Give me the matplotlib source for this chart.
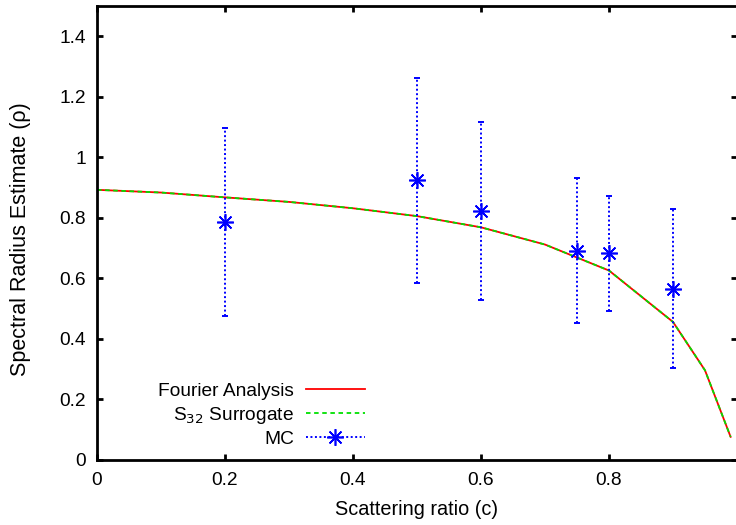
import matplotlib
matplotlib.use("Agg")
import matplotlib.pyplot as plt
from matplotlib.lines import Line2D

plt.rcParams['font.family'] = ['Liberation Sans', 'DejaVu Sans']

# Data
c_vals = [0.0, 0.1, 0.2, 0.3, 0.4, 0.5, 0.6, 0.7, 0.8, 0.9, 0.95, 0.99]
fourier = [0.892, 0.883, 0.867, 0.852, 0.831, 0.805, 0.768, 0.711, 0.625, 0.455, 0.295, 0.075]
surrogate = [0.892, 0.883, 0.867, 0.852, 0.831, 0.805, 0.768, 0.711, 0.625, 0.455, 0.295, 0.075]
mc_c = [0.2, 0.5, 0.6, 0.75, 0.8, 0.9]
mc_rho = [0.786, 0.923, 0.823, 0.691, 0.682, 0.564]
mc_err = [0.311, 0.340, 0.294, 0.240, 0.191, 0.263]
xticks = [0, 0.2, 0.4, 0.6, 0.8]
xticklabels = ['0', '0.2', '0.4', '0.6', '0.8']
yticks = [0, 0.2, 0.4, 0.6, 0.8, 1.0, 1.2, 1.4]
yticklabels = ['0', '0.2', '0.4', '0.6', '0.8', '1', '1.2', '1.4']

W, H = 736, 525
fig = plt.figure(figsize=(W / 100, H / 100), dpi=100)
left, right, bottom, top = 97, 737, 459.5, 6
ax = fig.add_axes([left / W, 1 - bottom / H, (right - left) / W, (bottom - top) / H])

ax.plot(c_vals, fourier, color='#ff0000', lw=1.3, label='Fourier Analysis')
ax.plot(c_vals, surrogate, color='#00e000', lw=1.3, dashes=(2.5, 2), label='S$_{32}$ Surrogate')

eb = ax.errorbar(mc_c, mc_rho, yerr=mc_err, fmt='none', ecolor='#0000ff',
                 elinewidth=1.4, capsize=2.5, capthick=1.4)
for lc in eb[2]:
    lc.set_linestyle((0, (1, 1.3)))
ax.plot(mc_c, mc_rho, linestyle='none', marker=(8, 2, 0), markersize=12,
        markeredgewidth=1.2, color='#0000ff')

mc_handle = Line2D([], [], color='#0000ff', linestyle=(0, (1, 1.3)), lw=1.4,
                   marker=(8, 2, 0), markersize=12, markeredgewidth=1.2)
handles, labels = ax.get_legend_handles_labels()
handles.append(mc_handle)
labels.append('MC')
ax.legend(handles, labels, loc='lower right', bbox_to_anchor=((365 - left) / (right - left), 0.025),
          frameon=False, markerfirst=False, handlelength=3.1, handletextpad=0.6,
          labelspacing=0.25, borderpad=0, borderaxespad=0, numpoints=1, fontsize=13.8)

ax.set_xlim(0, 1)
ax.set_ylim(0, 1.5)
ax.set_xticks(xticks)
ax.set_xticklabels(xticklabels)
ax.set_yticks(yticks)
ax.set_yticklabels(yticklabels)
ax.tick_params(direction='in', length=4.5, width=2, top=True, right=True,
               labelsize=13.8)
ax.tick_params(axis='x', pad=9)
ax.tick_params(axis='y', pad=8)
for s in ax.spines.values():
    s.set_linewidth(2)

ax.set_xlabel('Scattering ratio (c)', fontsize=14.3, labelpad=8)
ax.set_ylabel('Spectral Radius Estimate (ρ)', fontsize=15.5)
ax.yaxis.set_label_coords(-66 / (right - left), 0.485)

fig.savefig('out.png', dpi=100)
